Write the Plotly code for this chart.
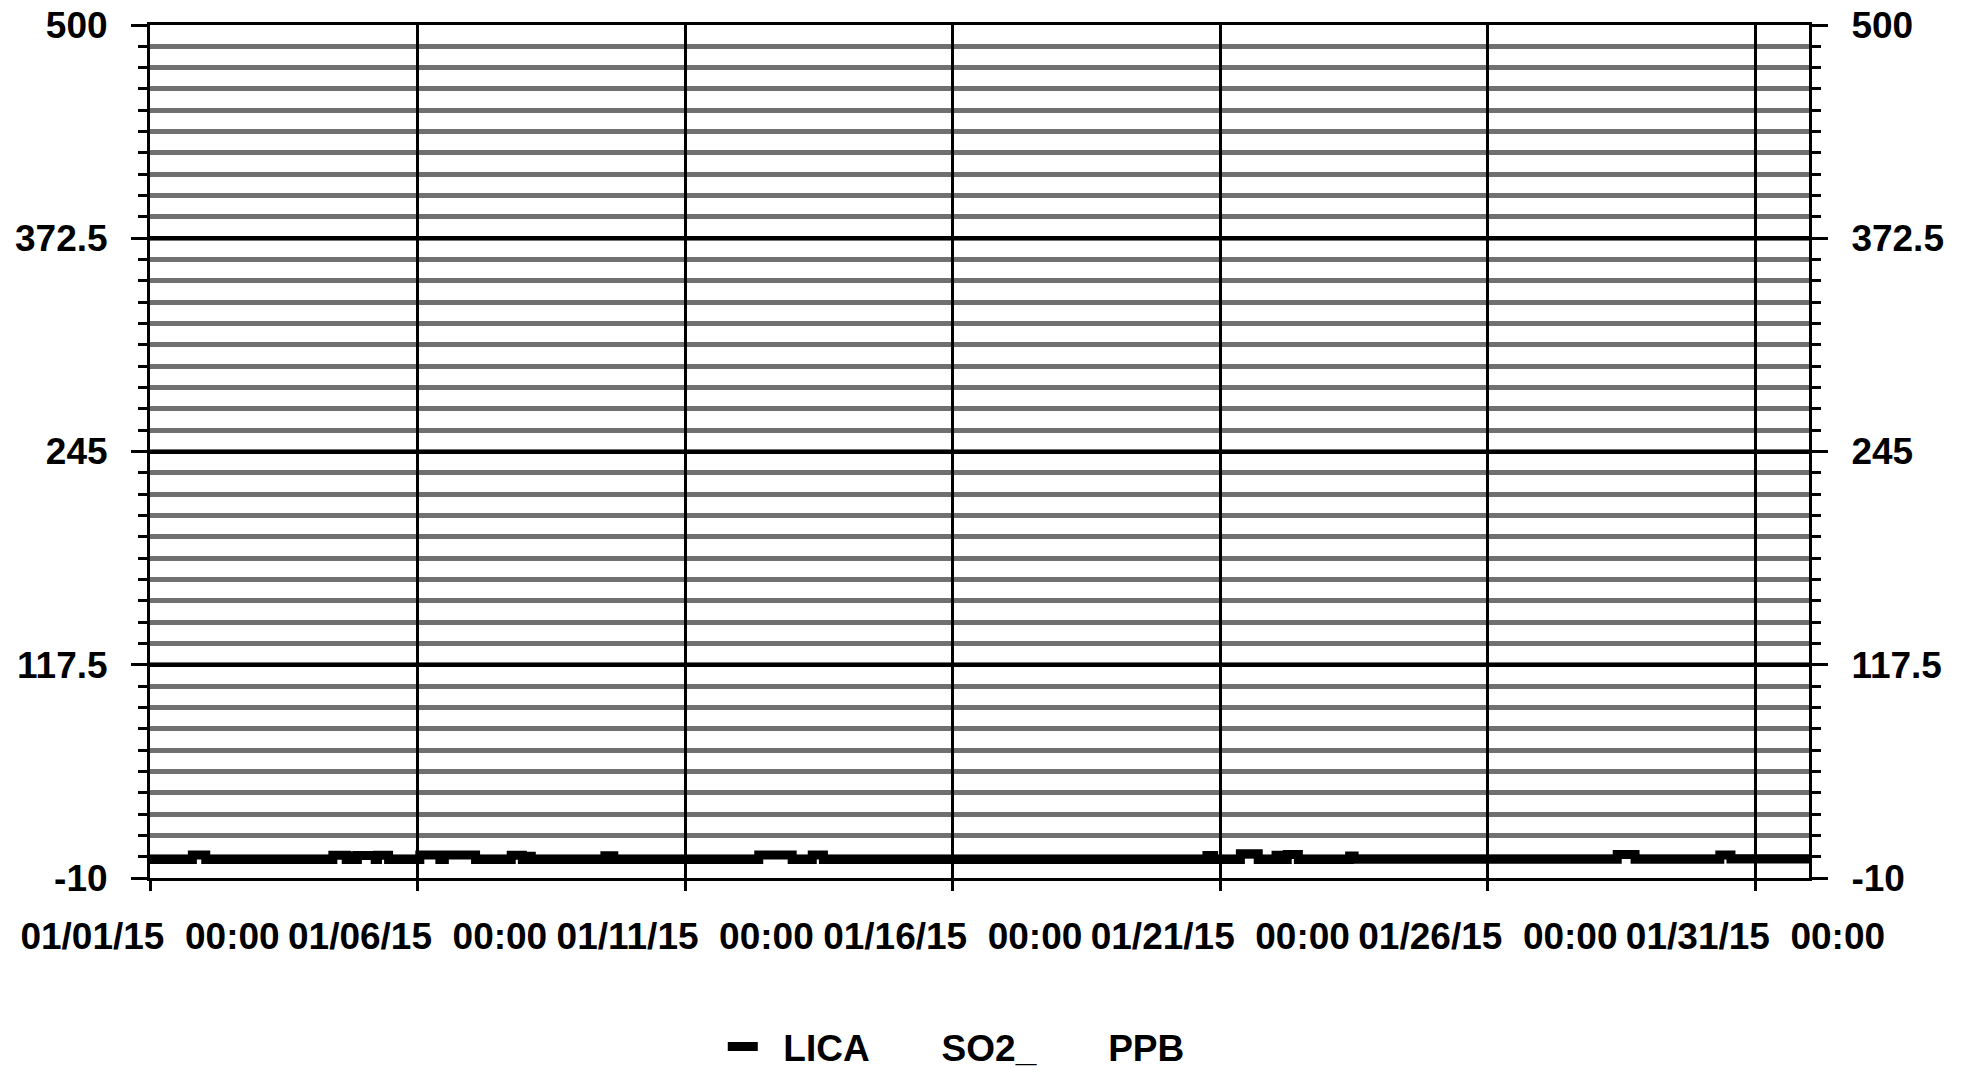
import plotly.graph_objects as go

# ---- data (LICA SO2 ppb, step series) ----
times = [
    '2015-01-01 00:00', '2015-01-01 19:00', '2015-01-02 01:00',
    '2015-01-04 10:00', '2015-01-04 16:00', '2015-01-04 18:00', '2015-01-04 19:00',
    '2015-01-04 21:00', '2015-01-05 05:00', '2015-01-05 06:00', '2015-01-05 11:00',
    '2015-01-06 01:00', '2015-01-06 10:00', '2015-01-06 12:00', '2015-01-07 02:00',
    '2015-01-07 18:00', '2015-01-07 23:00', '2015-01-08 02:00', '2015-01-08 03:00',
    '2015-01-09 12:00', '2015-01-09 16:00',
    '2015-01-12 09:00', '2015-01-13 00:00', '2015-01-13 09:00', '2015-01-13 14:00',
    '2015-01-20 18:00', '2015-01-20 21:00',
    '2015-01-21 09:00', '2015-01-21 17:00', '2015-01-22 01:00', '2015-01-22 02:00',
    '2015-01-22 06:00', '2015-01-22 11:00', '2015-01-23 10:00', '2015-01-23 12:00',
    '2015-01-28 10:00', '2015-01-28 18:00',
    '2015-01-30 08:00', '2015-01-30 13:00',
    '2015-02-01 00:00',
]
values = [
    1.0, 3.8, 1.0,
    3.6, 1.0, 3.3, 1.0,
    3.4, 1.0, 3.6, 1.0,
    3.8, 1.0, 3.8, 1.0,
    3.6, 1.0, 3.0, 1.0,
    3.3, 1.0,
    3.8, 1.0, 3.8, 1.0,
    3.5, 1.0,
    4.5, 1.0, 3.6, 1.0,
    4.0, 1.0, 3.2, 1.2,
    4.0, 1.2,
    3.8, 1.3,
    1.3,
]

x_tickvals = ['2015-01-01', '2015-01-06', '2015-01-11', '2015-01-16',
              '2015-01-21', '2015-01-26', '2015-01-31']
x_ticktext = ['01/01/15&nbsp;&nbsp;00:00', '01/06/15&nbsp;&nbsp;00:00',
              '01/11/15&nbsp;&nbsp;00:00', '01/16/15&nbsp;&nbsp;00:00',
              '01/21/15&nbsp;&nbsp;00:00', '01/26/15&nbsp;&nbsp;00:00',
              '01/31/15&nbsp;&nbsp;00:00']
y_tickvals = [-10, 117.5, 245, 372.5, 500]
y_ticktext = ['-10', '117.5', '245', '372.5', '500']
y_range = [-10, 500]
x_range = ['2015-01-01 00:00', '2015-02-01 00:00']
series_name = '&nbsp;&nbsp;LICA' + '&nbsp;' * 7 + 'SO2_' + '&nbsp;' * 7 + 'PPB'

FONT = dict(family='Liberation Sans, Arial, sans-serif', size=37, color='black', weight='bold')

fig = go.Figure()
fig.add_trace(go.Scatter(
    x=times, y=values, mode='lines', line=dict(color='black', width=9, shape='hv'),
    name=series_name, showlegend=True, hoverinfo='skip'))
fig.add_trace(go.Scatter(
    x=times, y=values, mode='lines', line=dict(color='rgba(0,0,0,0)', width=1, shape='hv'),
    yaxis='y2', showlegend=False, hoverinfo='skip'))

yaxis_common = dict(
    range=y_range, tickmode='array', tickvals=y_tickvals, ticktext=y_ticktext,
    ticks='outside', ticklen=16, tickwidth=3, tickcolor='black',
    showline=True, linecolor='black', linewidth=3,
    tickfont=FONT, zeroline=False, ticklabelstandoff=16, automargin=False,
    ticklabeloverflow='allow',
)

fig.update_layout(
    template='none',
    width=1966, height=1074,
    margin=dict(l=150, r=157, t=25, b=196, autoexpand=False),
    paper_bgcolor='white', plot_bgcolor='white',
    font=FONT,
    xaxis=dict(
        type='date', range=x_range, tickmode='array', tickvals=x_tickvals, ticktext=x_ticktext,
        ticks='outside', ticklen=10, tickwidth=3, tickcolor='black',
        showgrid=True, gridcolor='black', gridwidth=3,
        showline=True, linecolor='black', linewidth=3, mirror=True,
        tickfont=FONT, zeroline=False, ticklabelstandoff=14, automargin=False,
        ticklabeloverflow='allow',
    ),
    yaxis=dict(
        **yaxis_common,
        side='left', showgrid=True, gridcolor='black', gridwidth=4,
        minor=dict(tick0=-10, dtick=12.75, ticks='outside', ticklen=9, tickwidth=3,
                   tickcolor='black', showgrid=True, gridcolor='#707070', gridwidth=4.5),
    ),
    yaxis2=dict(
        **yaxis_common, overlaying='y', side='right', showgrid=False,
        minor=dict(tick0=-10, dtick=12.75, ticks='outside', ticklen=9, tickwidth=3,
                   tickcolor='black'),
    ),
    legend=dict(orientation='h', x=0.486, xanchor='center', y=-0.198, yanchor='middle',
                font=FONT, bgcolor='rgba(0,0,0,0)'),
    showlegend=True,
)

# remove the default 8px page margin so the figure fills the window exactly
fig.write_html('out.html', config={'displayModeBar': False},
               post_script="document.body.style.margin='0';")
